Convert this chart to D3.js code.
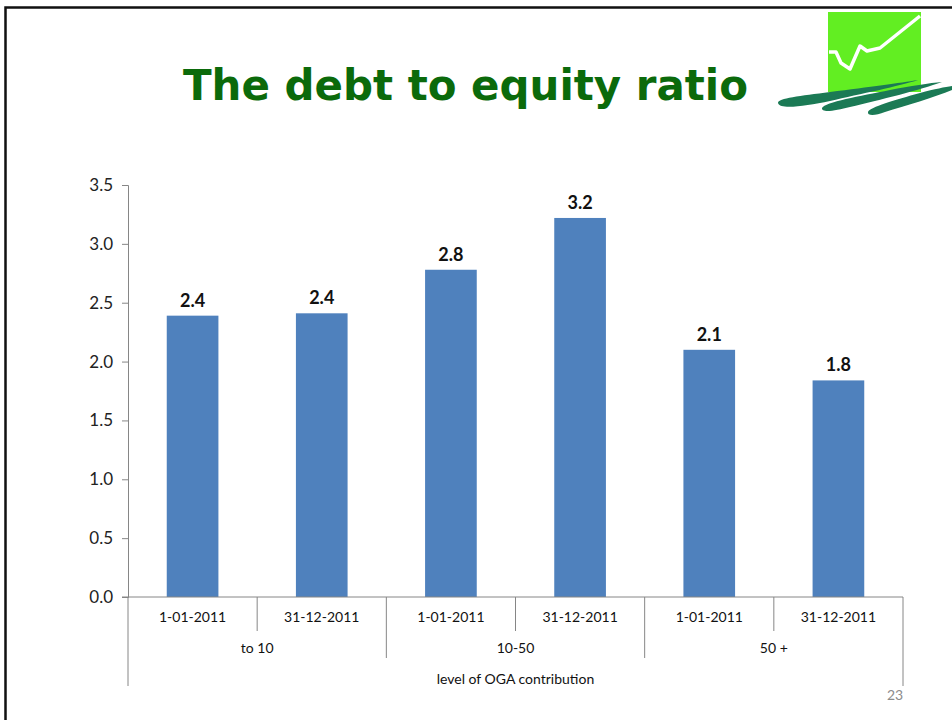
<!DOCTYPE html>
<html><head><meta charset="utf-8">
<script src="https://cdn.jsdelivr.net/npm/d3@7"></script>
<style>body{margin:0;background:#fff}svg{display:block}</style>
</head><body><svg id="c" width="952" height="720"></svg>
<script>
const dates = ["1-01-2011","31-12-2011","1-01-2011","31-12-2011","1-01-2011","31-12-2011"];
const groups = ["to 10","10-50","50 +"];
const values = [2.39, 2.41, 2.78, 3.22, 2.10, 1.84];
const valueLabels = ["2.4","2.4","2.8","3.2","2.1","1.8"];
const yTicks = [0,0.5,1,1.5,2,2.5,3,3.5];
const axisTitle = "level of OGA contribution";
const title = "The debt to equity ratio";
const pageNo = "23";

(function(){
const svg = d3.select("#c");
const font = "Lato, 'Open Sans', sans-serif";
const axisCol = "#868686";

// slide frame
svg.append("rect").attr("x",5.5).attr("y",7.5).attr("width",1000).attr("height",800)
  .attr("fill","none").attr("stroke","#111").attr("stroke-width",2.5);

// title
svg.append("text").attr("x",183).attr("y",100).text(title)
  .attr("font-family","'DejaVu Sans', Verdana, sans-serif").attr("font-weight","bold")
  .attr("font-size",43).attr("fill","#0b6a0b")
  .attr("textLength",565).attr("lengthAdjust","spacingAndGlyphs");

// logo
const logo = svg.append("g");
logo.append("rect").attr("x",828).attr("y",12).attr("width",93).attr("height",80).attr("fill","#62ee22");
logo.append("path").attr("d","M829,52 L836,52 L841,63 L850,69 L860,46 L867,51 L880,48 L920,16")
  .attr("fill","none").attr("stroke","#fff").attr("stroke-width",3.5).attr("stroke-linejoin","round");
const tc = "#1b7a55";
logo.append("path").attr("d","M778,103 C778,98 800,96 830,92 C870,87 900,83 918,80 C900,86 860,94 830,101 C805,106 780,110 778,103 Z").attr("fill",tc);
logo.append("path").attr("d","M822,108 C825,102 860,96 890,90 C910,86 930,83 942,82 C920,90 880,100 850,107 C835,111 821,113 822,108 Z").attr("fill",tc);
logo.append("path").attr("d","M868,112 C870,107 895,100 920,93 C935,89 945,87 952,86 L952,90 C935,97 905,106 885,112 C875,116 867,116 868,112 Z").attr("fill",tc);

// scales
const pLeft = 128, pRight = 903, pTop = 185, pBottom = 597;
const x = d3.scaleBand().domain(d3.range(values.length)).range([pLeft,pRight]).paddingInner(0.6).paddingOuter(0.3);
const step = (pRight-pLeft)/values.length;
const y = d3.scaleLinear().domain([0,3.5]).range([pBottom,pTop]);

// y axis
const ya = svg.append("g").attr("transform",`translate(${pLeft},0)`)
  .call(d3.axisLeft(y).tickValues(yTicks).tickFormat(d3.format(".1f")).tickSize(6).tickPadding(9));
ya.select(".domain").attr("stroke",axisCol);
ya.selectAll(".tick line").attr("stroke",axisCol);
ya.selectAll("text").attr("font-family",font).attr("font-size",17).attr("fill","#222");

// bars
svg.selectAll("rect.bar").data(values).enter().append("rect").attr("class","bar")
  .attr("x",(d,i)=>x(i)).attr("width",x.bandwidth())
  .attr("y",d=>y(d)).attr("height",d=>pBottom-y(d)).attr("fill","#4f81bd");
svg.selectAll("text.val").data(values).enter().append("text").attr("class","val")
  .attr("x",(d,i)=>x(i)+x.bandwidth()/2).attr("y",d=>y(d)-9).attr("text-anchor","middle")
  .attr("font-family",font).attr("font-weight","bold").attr("font-size",18).attr("fill","#111")
  .text((d,i)=>valueLabels[i]);

// category axis
const cat = svg.append("g");
cat.append("line").attr("x1",pLeft-6).attr("x2",pRight).attr("y1",pBottom).attr("y2",pBottom).attr("stroke",axisCol);
for(let i=0;i<=values.length;i++){
  const xx = pLeft + i*step;
  let y2 = (i===0||i===values.length) ? 686 : (i%2===0 ? 658 : 631);
  cat.append("line").attr("x1",xx).attr("x2",xx).attr("y1",pBottom).attr("y2",y2).attr("stroke",axisCol).attr("stroke-width",1);
}
cat.selectAll("text.d").data(dates).enter().append("text").attr("class","d")
  .attr("x",(d,i)=>pLeft+(i+0.5)*step).attr("y",622).attr("text-anchor","middle")
  .attr("font-family",font).attr("font-size",14).attr("fill","#111").text(d=>d);
cat.selectAll("text.g").data(groups).enter().append("text").attr("class","g")
  .attr("x",(d,i)=>pLeft+(2*i+1)*step).attr("y",653).attr("text-anchor","middle")
  .attr("font-family",font).attr("font-size",14).attr("fill","#111").text(d=>d);
cat.append("text").attr("x",(pLeft+pRight)/2).attr("y",684).attr("text-anchor","middle")
  .attr("font-family",font).attr("font-size",14).attr("fill","#111").text(axisTitle);

svg.append("text").attr("x",895).attr("y",700).attr("text-anchor","middle")
  .attr("font-family",font).attr("font-size",14).attr("fill","#8c8c8c").text(pageNo);
})();
</script></body></html>
